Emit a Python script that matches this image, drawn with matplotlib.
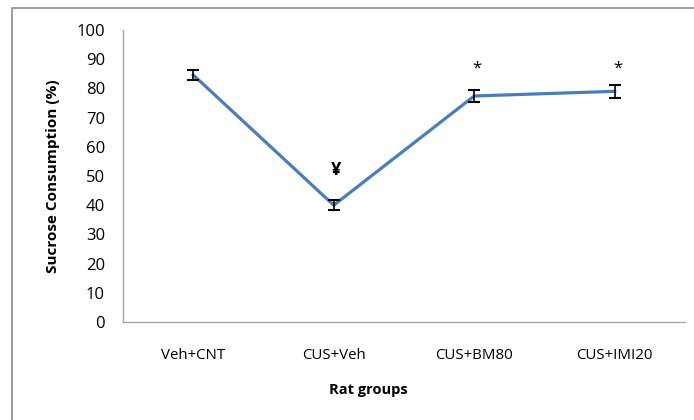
import matplotlib
matplotlib.use("Agg")
import matplotlib.pyplot as plt
from matplotlib.patches import Rectangle

groups = ["Veh+CNT", "CUS+Veh", "CUS+BM80", "CUS+IMI20"]
values = [84.6, 40.0, 77.4, 79.0]
errors = [1.7, 1.8, 2.0, 2.2]
marks = ["", "¥", "*", "*"]
mark_y = [None, 52.0, 86.8, 86.8]
yticks = [0, 10, 20, 30, 40, 50, 60, 70, 80, 90, 100]

plt.rcParams['font.family'] = ['Open Sans', 'DejaVu Sans']

fig = plt.figure(figsize=(6.94, 4.2), dpi=100)
fig.patches.append(Rectangle((12/694, -0.1), 1.1, (420-8)/420 + 0.1,
                             transform=fig.transFigure, fill=False,
                             edgecolor='#8c8c8c', linewidth=1.2))
ax = fig.add_axes([123/694, (420-322)/420, (685-123)/694, (322-30)/420])

x = list(range(len(groups)))
ax.plot(x, values, color='#4A7EBB', linewidth=2.3, zorder=2)
ax.errorbar(x, values, yerr=errors, fmt='none', ecolor='black',
            elinewidth=1.2, capsize=4, capthick=1.5, zorder=3)
for xi, m, my in zip(x, marks, mark_y):
    if m:
        ax.text(xi + 0.02, my, m, ha='center', va='center',
                fontsize=13 if m == "¥" else 12,
                fontweight='bold' if m == "¥" else 'normal', color='black')

ax.set_xlim(-0.5, 3.5)
ax.set_ylim(0, 100)
ax.set_yticks(yticks)
ax.set_xticks(x)
ax.set_xticklabels(groups, fontsize=10.8)
ax.tick_params(axis='y', length=0, pad=13, labelsize=12)
ax.tick_params(axis='x', length=0, pad=19)
for s in ['top', 'right']:
    ax.spines[s].set_visible(False)
for s in ['left', 'bottom']:
    ax.spines[s].set_color('#a6a6a6')
    ax.spines[s].set_linewidth(1.0)
ax.set_ylabel("Sucrose Consumption (%)", fontsize=11, fontweight='bold')
ax.yaxis.set_label_coords(-(123-60)/562, 0.5)
ax.set_xlabel("Rat groups", fontsize=10.5, fontweight='bold')
ax.xaxis.set_label_coords((368-123)/562, -0.21)

fig.savefig("out.png", dpi=100)
